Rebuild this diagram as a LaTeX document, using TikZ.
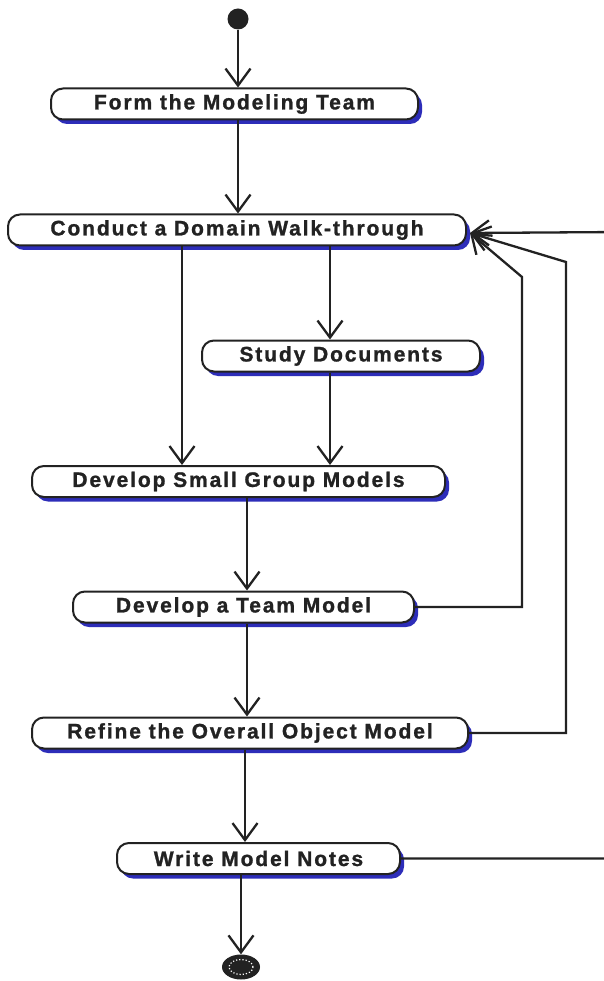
\documentclass[tikz,border=0pt]{standalone}
\usepackage{fontspec}
\usetikzlibrary{arrows.meta,shadows,shapes.geometric}
\newfontfamily\actfont[LetterSpace=9,FakeBold=1.2]{Liberation Sans Bold}
\definecolor{ink}{RGB}{34,34,34}
\definecolor{shblue}{RGB}{45,45,185}
\tikzset{
  act/.style={draw=ink, line width=2pt, fill=white, rounded corners=12pt,
    minimum height=31pt, inner sep=0pt, text=ink, font=\actfont\fontsize{21}{21}\selectfont,
    drop shadow={shadow xshift=4pt, shadow yshift=-4.5pt, fill=shblue, opacity=1}},
  flow/.style={draw=ink, line width=2.3pt,
    -{Straight Barb[length=17pt,width=25pt,line width=2.3pt]}},
  link/.style={draw=ink, line width=2.3pt}
}
\begin{document}
\begin{tikzpicture}[x=1pt,y=-1pt]
\clip (0,0) rectangle (604,981);
\fill[white] (0,0) rectangle (604,981);

% activities
\node[act, minimum width=367pt] (n1) at (234.5,104) {Form the Modeling Team};
\node[act, minimum width=458pt] (n2) at (237,230) {Conduct a Domain Walk-through};
\node[act, minimum width=278pt] (n3) at (341,356) {Study Documents};
\node[act, minimum width=413pt] (n4) at (238.5,481.5) {Develop Small Group Models};
\node[act, minimum width=341pt] (n5) at (243.5,607) {Develop a Team Model};
\node[act, minimum width=436pt] (n6) at (250,733) {Refine the Overall Object Model};
\node[act, minimum width=283pt] (n7) at (258.5,858.5) {Write Model Notes};

% initial and final states
\node[circle, fill=ink, minimum size=21pt, inner sep=0pt] (start) at (238,19) {};
\node[ellipse, fill=ink, minimum width=38pt, minimum height=25pt, inner sep=0pt] (stop) at (241,967) {};
\draw[white, line width=1.2pt, dotted] (stop.center) ellipse [x radius=12pt, y radius=7.5pt];

% main flow
\draw[flow] (start) -- (start |- n1.north);
\draw[flow] (n1.south -| start) -- (n2.north -| start);
\coordinate (a) at (182,0);
\coordinate (b) at (330,0);
\draw[flow] (n2.south -| a) -- (n4.north -| a);
\draw[flow] (n2.south -| b) -- (n3.north -| b);
\draw[flow] (n3.south -| b) -- (n4.north -| b);
\coordinate (c) at (247,0);
\coordinate (d) at (245,0);
\draw[flow] (n4.south -| c) -- (n5.north -| c);
\draw[flow] (n5.south -| c) -- (n6.north -| c);
\draw[flow] (n6.south -| d) -- (n7.north -| d);
\draw[flow] (n7.south -| stop) -- (stop.north);

% loops back to the walk-through
\coordinate (tip) at (470,233);
\coordinate (r1) at (522,277);
\coordinate (r2) at (566,262);
\coordinate (r3) at (620,232);
\draw[flow] (n5.east) -- (n5.east -| r1) -- (r1) -- (tip);
\draw[flow] (n6.east) -- (n6.east -| r2) -- (r2) -- (tip);
\draw[flow] (n7.east) -- (n7.east -| r3) -- (r3) -- (tip);
\end{tikzpicture}
\end{document}
